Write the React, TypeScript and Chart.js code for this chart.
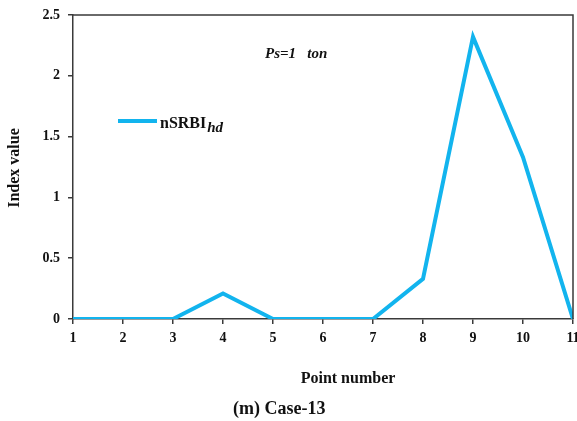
import React, { useEffect, useRef } from "react";
import { Chart, registerables } from "chart.js";

Chart.register(...registerables);

const pointNumbers = [1, 2, 3, 4, 5, 6, 7, 8, 9, 10, 11];
const indexValues = [0, 0, 0, 0.21, 0, 0, 0, 0.33, 2.32, 1.33, 0];
const yTickLabels = ["0", "0.5", "1", "1.5", "2", "2.5"];
const seriesName = "nSRBI";
const seriesSub = "hd";
const annotationText = "Ps=1   ton";
const xTitle = "Point number";
const yTitle = "Index value";
const caption = "(m) Case-13";

const FONT = "'Liberation Serif', 'Times New Roman', serif";
const LINE_COLOR = "#12b4ee";
const AXIS_COLOR = "#3a3a3a";

const decorPlugin = {
  id: "decor",
  afterDraw(chart: any) {
    const { ctx, chartArea } = chart;
    ctx.save();
    // box top & right
    ctx.strokeStyle = AXIS_COLOR;
    ctx.lineWidth = 1.5;
    ctx.beginPath();
    ctx.moveTo(chartArea.left, chartArea.top);
    ctx.lineTo(chartArea.right, chartArea.top);
    ctx.lineTo(chartArea.right, chartArea.bottom);
    ctx.stroke();

    // legend
    ctx.strokeStyle = LINE_COLOR;
    ctx.lineWidth = 4;
    ctx.beginPath();
    ctx.moveTo(118, 121);
    ctx.lineTo(157, 121);
    ctx.stroke();
    ctx.fillStyle = "#111";
    ctx.textBaseline = "alphabetic";
    ctx.textAlign = "left";
    ctx.font = `bold 16px ${FONT}`;
    ctx.fillText(seriesName, 160, 128);
    const w = ctx.measureText(seriesName).width;
    ctx.font = `italic bold 15px ${FONT}`;
    ctx.fillText(seriesSub, 160 + w + 1, 132);

    // annotation
    ctx.font = `italic bold 15px ${FONT}`;
    ctx.fillText(annotationText, 265, 58);

    // caption
    ctx.font = `bold 18px ${FONT}`;
    ctx.fillText(caption, 233, 414);

    // x title
    ctx.textAlign = "center";
    ctx.font = `bold 16px ${FONT}`;
    ctx.fillText(xTitle, 348, 383);

    // y title
    ctx.translate(19, 168);
    ctx.rotate(-Math.PI / 2);
    ctx.font = `bold 16px ${FONT}`;
    ctx.fillText(yTitle, 0, 0);
    ctx.restore();
  },
};

export default function App() {
  const ref = useRef<HTMLCanvasElement>(null);
  useEffect(() => {
    const chart = new Chart(ref.current as HTMLCanvasElement, {
      type: "line",
      data: {
        datasets: [
          {
            label: seriesName + seriesSub,
            data: pointNumbers.map((x, i) => ({ x, y: indexValues[i] })),
            borderColor: LINE_COLOR,
            borderWidth: 4,
            pointRadius: 0,
            tension: 0,
            fill: false,
          },
        ],
      },
      options: {
        animation: false,
        responsive: false,
        layout: { padding: { left: 0, right: 4, top: 15, bottom: 0 } },
        plugins: { legend: { display: false }, tooltip: { enabled: false } },
        scales: {
          x: {
            type: "linear",
            min: 1,
            max: 11,
            afterFit: (s: any) => {
              s.height = 102;
              s.paddingLeft = 0;
              s.paddingRight = 0;
            },
            ticks: {
              stepSize: 1,
              color: "#111",
              font: { family: FONT, weight: "bold", size: 14 },
              padding: 6,
              maxRotation: 0,
            },
            grid: {
              drawOnChartArea: false,
              drawTicks: true,
              tickLength: 5,
              color: AXIS_COLOR,
              lineWidth: 1.5,
            },
            border: { color: AXIS_COLOR, width: 1.5 },
          },
          y: {
            type: "linear",
            min: 0,
            max: 2.5,
            afterFit: (s: any) => {
              s.width = 73;
              s.paddingTop = 0;
              s.paddingBottom = 0;
            },
            ticks: {
              stepSize: 0.5,
              color: "#111",
              font: { family: FONT, weight: "bold", size: 14 },
              padding: 8,
              callback: (_v: any, i: number) => yTickLabels[i],
            },
            grid: {
              drawOnChartArea: false,
              drawTicks: true,
              tickLength: 5,
              color: AXIS_COLOR,
              lineWidth: 1.5,
            },
            border: { color: AXIS_COLOR, width: 1.5 },
          },
        },
      },
      plugins: [decorPlugin],
    } as any);
    return () => chart.destroy();
  }, []);
  return (
    <div style={{ position: "fixed", left: 0, top: 0, width: 577, height: 421, background: "#fff" }}>
      <canvas ref={ref} width={577} height={421} />
    </div>
  );
}
